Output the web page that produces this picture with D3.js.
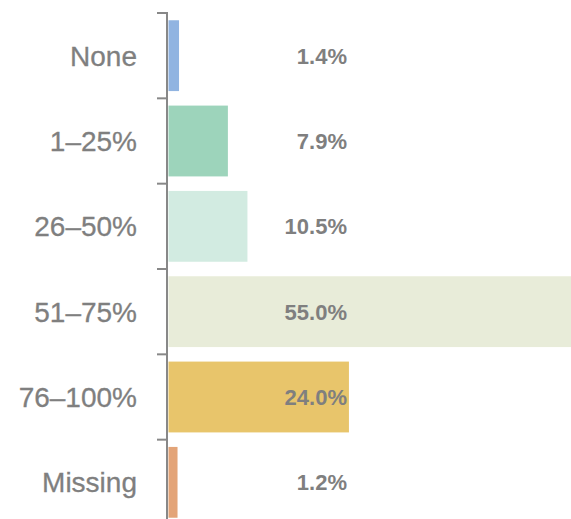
<!DOCTYPE html>
<meta charset="utf-8">
<title>Share by range</title>
<style>
body { margin: 0; background: #fff; }
svg { display: block; }
.cat { font: 28px "Liberation Sans", Arial, sans-serif; fill: #7f7f7f; text-anchor: end; stroke: #7f7f7f; stroke-width: 0.3px; }
.val { font: bold 22px "Liberation Sans", Arial, sans-serif; fill: #7f7f7f; text-anchor: end; }
.axis line { stroke: #888; stroke-width: 2px; }
</style>
<svg id="chart" width="571" height="519"></svg>
<script src="https://d3js.org/d3.v7.min.js"></script>
<script>
const categories = ["None", "1–25%", "26–50%", "51–75%", "76–100%", "Missing"];
const values = [1.4, 7.9, 10.5, 55.0, 24.0, 1.2];
const labels = ["1.4%", "7.9%", "10.5%", "55.0%", "24.0%", "1.2%"];
const colors = ["#91b4e1", "#9dd4bb", "#d2ebe1", "#e8ecd9", "#e8c56b", "#e3a478"];

let svg = d3.select("#chart"),
    x0 = 168.5,
    pin = 0.17;

let y = d3.scaleBand().domain(categories).range([13, 525]).paddingInner(pin).paddingOuter(pin / 2);
let x = d3.scaleLinear().domain([0, 55]).range([x0, 582]);

let rows = categories.map((c, i) => ({ cat: c, value: values[i], label: labels[i], color: colors[i] }));

svg.selectAll("rect.bar")
  .data(rows)
  .enter().append("rect")
    .attr("class", "bar")
    .attr("x", x(0))
    .attr("y", d => y(d.cat))
    .attr("width", d => x(d.value) - x(0))
    .attr("height", y.bandwidth())
    .attr("fill", d => d.color);

// axis: vertical line with ticks at band boundaries
let axis = svg.append("g").attr("class", "axis");
axis.append("line")
  .attr("x1", 167).attr("x2", 167)
  .attr("y1", 12).attr("y2", 530);
axis.selectAll("line.tick")
  .data(categories)
  .enter().append("line")
    .attr("class", "tick")
    .attr("x1", 157).attr("x2", 167)
    .attr("y1", d => y(d) - y.step() * pin / 2)
    .attr("y2", d => y(d) - y.step() * pin / 2);

svg.selectAll("text.cat")
  .data(rows)
  .enter().append("text")
    .attr("class", "cat")
    .attr("x", 137)
    .attr("y", d => y(d.cat) + y.bandwidth() / 2)
    .attr("dy", "0.36em")
    .text(d => d.cat);

svg.selectAll("text.val")
  .data(rows)
  .enter().append("text")
    .attr("class", "val")
    .attr("x", 347)
    .attr("y", d => y(d.cat) + y.bandwidth() / 2)
    .attr("dy", "0.36em")
    .text(d => d.label);
</script>
